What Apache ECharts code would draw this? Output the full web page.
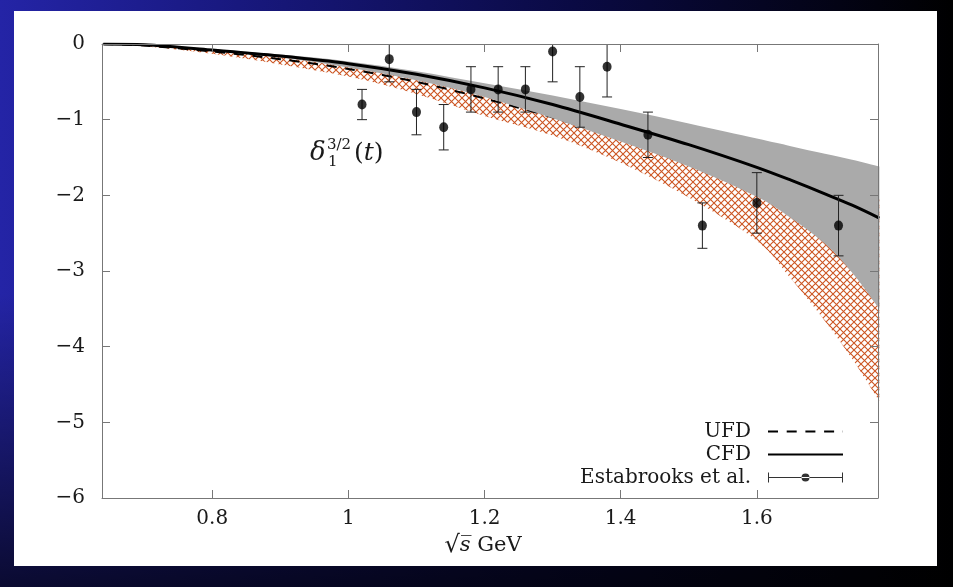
<!DOCTYPE html>
<html><head><meta charset="utf-8">
<script src="https://cdn.jsdelivr.net/npm/echarts@6/dist/echarts.min.js"></script>
<style>
html,body{margin:0;padding:0;width:953px;height:587px;overflow:hidden;}
body{background:
 linear-gradient(to bottom, rgba(0,0,0,0) 0%, rgba(0,0,0,0) 50%, rgba(0,0,0,0.7) 100%),
 linear-gradient(to right, #2424a6 0%, #18187e 25%, #0a0a44 60%, #000 100%);}
#panel{position:absolute;left:14px;top:11px;width:923px;height:555px;background:#fff;}
#chart{position:absolute;left:0;top:0;width:953px;height:587px;}
</style></head><body>
<div id="panel"></div><div id="chart"></div>
<script>
// ---- data ----
const xCurve   = [0.64, 0.70, 0.80, 0.90, 1.00, 1.10, 1.20, 1.30, 1.40, 1.50, 1.60, 1.65, 1.70, 1.74, 1.78];
const cfdLine  = [0, -0.01, -0.08, -0.16, -0.26, -0.40, -0.58, -0.80, -1.06, -1.33, -1.63, -1.80, -1.98, -2.13, -2.30];
const cfdUpper = [0, -0.01, -0.07, -0.14, -0.23, -0.36, -0.52, -0.68, -0.86, -1.05, -1.25, -1.35, -1.45, -1.53, -1.62];
const cfdLower = [0, -0.02, -0.09, -0.18, -0.31, -0.48, -0.70, -0.98, -1.29, -1.62, -2.02, -2.30, -2.64, -3.02, -3.50];
const ufdLine  = [0, -0.02, -0.10, -0.20, -0.33, -0.50, -0.72, -0.97, -1.25, -1.55, -1.90, -2.08, -2.28, -2.45, -2.62];
const ufdUpper = [0, -0.01, -0.07, -0.15, -0.26, -0.40, -0.56, -0.75, -0.98, -1.22, -1.50, -1.65, -1.80, -1.92, -2.05];
const ufdLower = [0, -0.03, -0.13, -0.27, -0.43, -0.66, -0.95, -1.21, -1.57, -2.03, -2.60, -3.10, -3.66, -4.16, -4.72];

const estX   = [1.02, 1.06, 1.10, 1.14, 1.18, 1.22, 1.26, 1.30, 1.34, 1.38, 1.44, 1.52, 1.60, 1.72];
const estY   = [-0.8, -0.2, -0.9, -1.1, -0.6, -0.6, -0.6, -0.1, -0.7, -0.3, -1.2, -2.4, -2.1, -2.4];
const estErr = [0.2, 0.3, 0.3, 0.3, 0.3, 0.3, 0.3, 0.4, 0.4, 0.4, 0.3, 0.3, 0.4, 0.4];

const xMin = 0.638, xMax = 1.778;
const yMin = -6, yMax = 0, yStep = 1;
const legendNames = ['UFD', 'CFD', 'Estabrooks et al.'];

// ---- helpers ----
const FONT = 'DejaVu Serif';
const TXT = '#1a1a1a';
const AXC = '#777';
const pairs = ys => xCurve.map((x, i) => [x, ys[i]]);

const hatch = (function () {
  const s = 7, c = document.createElement('canvas');
  c.width = s; c.height = s;
  const g = c.getContext('2d');
  g.strokeStyle = '#cc5522'; g.lineWidth = 1.1;
  g.beginPath();
  g.moveTo(-1, -1); g.lineTo(s + 1, s + 1);
  g.moveTo(s + 1, -1); g.lineTo(-1, s + 1);
  g.stroke();
  return c;
})();

// cubic (Catmull-Rom) path through screen points
function curveThrough(pts) {
  let d = '';
  for (let i = 0; i < pts.length - 1; i++) {
    const p0 = pts[i - 1] || pts[i], p1 = pts[i], p2 = pts[i + 1], p3 = pts[i + 2] || pts[i + 1];
    const c1x = p1[0] + (p2[0] - p0[0]) / 6, c1y = p1[1] + (p2[1] - p0[1]) / 6;
    const c2x = p2[0] - (p3[0] - p1[0]) / 6, c2y = p2[1] - (p3[1] - p1[1]) / 6;
    d += ' C' + c1x + ',' + c1y + ' ' + c2x + ',' + c2y + ' ' + p2[0] + ',' + p2[1];
  }
  return d;
}
function bandSeries(upper, lower, fill, z) {
  return {
    type: 'custom', z: z, silent: true,
    data: xCurve.map((x, i) => [x, upper[i], lower[i]]),
    encode: {x: 0, y: [1, 2]},
    renderItem: function (params, api) {
      if (params.dataIndex !== 0) return null;
      const up = xCurve.map((x, i) => api.coord([x, upper[i]]));
      const lo = xCurve.map((x, i) => api.coord([x, lower[i]])).reverse();
      const d = 'M' + up[0][0] + ',' + up[0][1] + curveThrough(up) +
                ' L' + lo[0][0] + ',' + lo[0][1] + curveThrough(lo) + ' Z';
      return {type: 'path', shape: {pathData: d}, style: {fill: fill, stroke: null}};
    }
  };
}

const chart = echarts.init(document.getElementById('chart'), null, {renderer: 'canvas'});

const axisCommon = {
  z: 10,
  axisLine: {show: true, onZero: false, lineStyle: {color: AXC, width: 1}},
  axisTick: {show: true, inside: true, length: 8, lineStyle: {color: AXC, width: 1}},
  splitLine: {show: false}
};

const option = {
  animation: false,
  backgroundColor: 'transparent',
  grid: {left: 102, right: 75, top: 44, bottom: 89, containLabel: false, outerBoundsMode: 'none'},
  xAxis: [
    Object.assign({
      type: 'value', min: xMin, max: xMax, position: 'bottom', splitNumber: 5,
      axisLabel: {showMinLabel: false, showMaxLabel: false, fontFamily: FONT, fontSize: 20, color: TXT, margin: 11},
      name: '{r|\u221A}{s|s\u0305} GeV', nameLocation: 'middle', nameGap: 32,
      nameTextStyle: {fontFamily: FONT, fontSize: 21, color: TXT, padding: [0, 14, 0, 0],
        rich: {r: {fontFamily: FONT, fontSize: 24, color: TXT}, s: {fontFamily: FONT, fontSize: 21, fontStyle: 'italic', color: TXT}}}
    }, axisCommon),
    Object.assign({
      type: 'value', min: xMin, max: xMax, position: 'top', splitNumber: 5,
      axisLabel: {show: false}
    }, axisCommon)
  ],
  yAxis: [
    Object.assign({
      type: 'value', min: yMin, max: yMax, interval: yStep, position: 'left',
      axisLabel: {fontFamily: FONT, fontSize: 20, color: TXT, margin: 17,
        formatter: v => v < 0 ? '\u2212' + Math.abs(v) : String(v)}
    }, axisCommon),
    Object.assign({
      type: 'value', min: yMin, max: yMax, interval: yStep, position: 'right',
      axisLabel: {show: false}
    }, axisCommon)
  ],
  legend: {
    orient: 'vertical', right: 953 - 844, top: 420, align: 'right', padding: 0,
    itemGap: 0, itemWidth: 75, itemHeight: 10, selectedMode: false,
    textStyle: {fontFamily: FONT, fontSize: 20, color: TXT, lineHeight: 23, padding: [0, 12, 0, 0]},
    data: [
      {name: legendNames[0], itemStyle: {opacity: 0}},
      {name: legendNames[1], itemStyle: {opacity: 0}},
      {name: legendNames[2], icon: 'path://M0,0h1v10h-1z M74,0h1v10h-1z M0,4.5h75v1h-75z M33.5,5a4,4 0 1,0 8,0a4,4 0 1,0 -8,0z'}
    ]
  },
  graphic: [
    {type: 'text', z: 100, style: {x: 310, y: 153, text: '\u03B4', font: 'italic 26px "DejaVu Serif"', fill: TXT, verticalAlign: 'middle'}},
    {type: 'text', z: 100, style: {x: 327, y: 145, text: '3/2', font: '15px "DejaVu Serif"', fill: TXT, verticalAlign: 'middle'}},
    {type: 'text', z: 100, style: {x: 328, y: 162, text: '1', font: '15px "DejaVu Serif"', fill: TXT, verticalAlign: 'middle'}},
    {type: 'text', z: 100, style: {x: 354, y: 153, text: '({t|t})', font: '25px "DejaVu Serif"', fill: TXT, verticalAlign: 'middle',
      rich: {t: {font: 'italic 25px "DejaVu Serif"', fill: TXT}}}}
  ],
  series: [
    bandSeries(ufdUpper, ufdLower, {image: hatch, repeat: 'repeat'}, 1),
    {type: 'line', name: legendNames[0], data: pairs(ufdLine), symbol: 'none', smooth: 0.3,
      lineStyle: {color: '#000', width: 2, type: [10, 8.7]}, itemStyle: {color: '#000'}, z: 2, silent: true},
    bandSeries(cfdUpper, cfdLower, '#aaaaaa', 3),
    {type: 'line', name: legendNames[1], data: pairs(cfdLine), symbol: 'none', smooth: 0.3,
      lineStyle: {color: '#000', width: 3}, itemStyle: {color: '#000'}, z: 4, silent: true},
    {type: 'custom', name: 'err', data: estX.map((x, i) => [x, estY[i], estErr[i]]), encode: {x: 0, y: 1}, z: 5, silent: true,
      renderItem: function (params, api) {
        const x = api.value(0), y = api.value(1), e = api.value(2);
        const pt = api.coord([x, y + e]), pb = api.coord([x, y - e]);
        const top = params.coordSys.y;
        const cw = 5, st = {stroke: '#222', lineWidth: 1};
        const yT = Math.max(pt[1], top);
        const ch = [{type: 'line', shape: {x1: pt[0], y1: yT, x2: pb[0], y2: pb[1]}, style: st}];
        if (pt[1] >= top) ch.push({type: 'line', shape: {x1: pt[0] - cw, y1: pt[1], x2: pt[0] + cw, y2: pt[1]}, style: st});
        ch.push({type: 'line', shape: {x1: pb[0] - cw, y1: pb[1], x2: pb[0] + cw, y2: pb[1]}, style: st});
        return {type: 'group', children: ch};
      }},
    {type: 'scatter', name: legendNames[2], data: estX.map((x, i) => [x, estY[i]]), symbolSize: [9, 10],
      itemStyle: {color: '#000'}, z: 6, silent: true}
  ]
};
chart.setOption(option);
</script></body></html>
